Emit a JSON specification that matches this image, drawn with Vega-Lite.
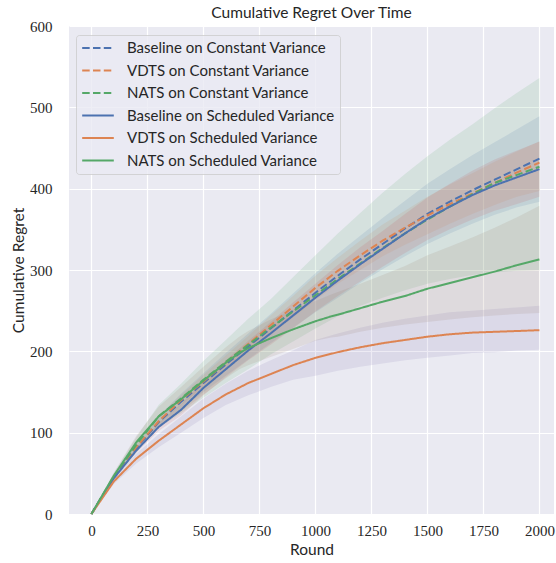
{
  "$schema": "https://vega.github.io/schema/vega-lite/v6.json",
  "width": 485,
  "height": 488,
  "autosize": {"type": "none"},
  "padding": {"left": 69, "top": 26, "right": 2, "bottom": 49},
  "background": "white",
  "title": {"text": "Cumulative Regret Over Time", "font": "Lato", "fontSize": 15.5, "fontWeight": "normal", "color": "#262626", "offset": -2, "anchor": "middle"},
  "config": {
    "view": {"fill": "#EAEAF2", "stroke": null},
    "axis": {"domain": false, "ticks": false, "tickSize": 0, "grid": true, "gridColor": "white", "gridWidth": 1.2, "labelFont": "Liberation Serif", "labelFontSize": 15, "labelColor": "#262626", "titleFont": "Lato", "titleFontSize": 15.5, "titleFontWeight": "normal", "titleColor": "#262626", "labelFlush": false, "labelOverlap": false, "format": "d"}
  },
  "datasets": {
    "runs": [
      {"series": "Baseline on Constant Variance", "round": 0, "mean": 0, "lo": 0, "hi": 0},
      {"series": "Baseline on Constant Variance", "round": 100, "mean": 45, "lo": 42, "hi": 48},
      {"series": "Baseline on Constant Variance", "round": 200, "mean": 81, "lo": 76, "hi": 86},
      {"series": "Baseline on Constant Variance", "round": 300, "mean": 113, "lo": 106, "hi": 120},
      {"series": "Baseline on Constant Variance", "round": 400, "mean": 138, "lo": 129, "hi": 148},
      {"series": "Baseline on Constant Variance", "round": 500, "mean": 161, "lo": 150, "hi": 173},
      {"series": "Baseline on Constant Variance", "round": 600, "mean": 184, "lo": 170, "hi": 198},
      {"series": "Baseline on Constant Variance", "round": 700, "mean": 206, "lo": 190, "hi": 222},
      {"series": "Baseline on Constant Variance", "round": 800, "mean": 228, "lo": 210, "hi": 246},
      {"series": "Baseline on Constant Variance", "round": 900, "mean": 250, "lo": 229, "hi": 271},
      {"series": "Baseline on Constant Variance", "round": 1000, "mean": 272, "lo": 248, "hi": 296},
      {"series": "Baseline on Constant Variance", "round": 1100, "mean": 293, "lo": 266, "hi": 320},
      {"series": "Baseline on Constant Variance", "round": 1200, "mean": 313, "lo": 284, "hi": 342},
      {"series": "Baseline on Constant Variance", "round": 1300, "mean": 332, "lo": 301, "hi": 364},
      {"series": "Baseline on Constant Variance", "round": 1400, "mean": 351, "lo": 317, "hi": 385},
      {"series": "Baseline on Constant Variance", "round": 1500, "mean": 369, "lo": 332, "hi": 406},
      {"series": "Baseline on Constant Variance", "round": 1600, "mean": 384, "lo": 345, "hi": 424},
      {"series": "Baseline on Constant Variance", "round": 1700, "mean": 398, "lo": 357, "hi": 441},
      {"series": "Baseline on Constant Variance", "round": 1800, "mean": 411, "lo": 368, "hi": 457},
      {"series": "Baseline on Constant Variance", "round": 1900, "mean": 424, "lo": 377, "hi": 473},
      {"series": "Baseline on Constant Variance", "round": 2000, "mean": 437, "lo": 384, "hi": 489},

      {"series": "VDTS on Constant Variance", "round": 0, "mean": 0, "lo": 0, "hi": 0},
      {"series": "VDTS on Constant Variance", "round": 100, "mean": 45, "lo": 43, "hi": 47},
      {"series": "VDTS on Constant Variance", "round": 200, "mean": 82, "lo": 79, "hi": 85},
      {"series": "VDTS on Constant Variance", "round": 300, "mean": 114, "lo": 110, "hi": 119},
      {"series": "VDTS on Constant Variance", "round": 400, "mean": 140, "lo": 134, "hi": 146},
      {"series": "VDTS on Constant Variance", "round": 500, "mean": 163, "lo": 156, "hi": 171},
      {"series": "VDTS on Constant Variance", "round": 600, "mean": 186, "lo": 177, "hi": 195},
      {"series": "VDTS on Constant Variance", "round": 700, "mean": 209, "lo": 199, "hi": 219},
      {"series": "VDTS on Constant Variance", "round": 800, "mean": 232, "lo": 220, "hi": 244},
      {"series": "VDTS on Constant Variance", "round": 900, "mean": 255, "lo": 242, "hi": 268},
      {"series": "VDTS on Constant Variance", "round": 1000, "mean": 278, "lo": 263, "hi": 293},
      {"series": "VDTS on Constant Variance", "round": 1100, "mean": 299, "lo": 283, "hi": 315},
      {"series": "VDTS on Constant Variance", "round": 1200, "mean": 318, "lo": 300, "hi": 336},
      {"series": "VDTS on Constant Variance", "round": 1300, "mean": 336, "lo": 317, "hi": 356},
      {"series": "VDTS on Constant Variance", "round": 1400, "mean": 352, "lo": 331, "hi": 373},
      {"series": "VDTS on Constant Variance", "round": 1500, "mean": 367, "lo": 344, "hi": 390},
      {"series": "VDTS on Constant Variance", "round": 1600, "mean": 381, "lo": 357, "hi": 405},
      {"series": "VDTS on Constant Variance", "round": 1700, "mean": 394, "lo": 369, "hi": 419},
      {"series": "VDTS on Constant Variance", "round": 1800, "mean": 407, "lo": 380, "hi": 433},
      {"series": "VDTS on Constant Variance", "round": 1900, "mean": 420, "lo": 390, "hi": 446},
      {"series": "VDTS on Constant Variance", "round": 2000, "mean": 432, "lo": 397, "hi": 458},

      {"series": "NATS on Constant Variance", "round": 0, "mean": 0, "lo": 0, "hi": 0},
      {"series": "NATS on Constant Variance", "round": 100, "mean": 46, "lo": 42, "hi": 50},
      {"series": "NATS on Constant Variance", "round": 200, "mean": 85, "lo": 76, "hi": 94},
      {"series": "NATS on Constant Variance", "round": 300, "mean": 120, "lo": 106, "hi": 134},
      {"series": "NATS on Constant Variance", "round": 400, "mean": 142, "lo": 124, "hi": 160},
      {"series": "NATS on Constant Variance", "round": 500, "mean": 165, "lo": 143, "hi": 188},
      {"series": "NATS on Constant Variance", "round": 600, "mean": 187, "lo": 161, "hi": 214},
      {"series": "NATS on Constant Variance", "round": 700, "mean": 208, "lo": 178, "hi": 240},
      {"series": "NATS on Constant Variance", "round": 800, "mean": 229, "lo": 196, "hi": 264},
      {"series": "NATS on Constant Variance", "round": 900, "mean": 249, "lo": 212, "hi": 291},
      {"series": "NATS on Constant Variance", "round": 1000, "mean": 269, "lo": 228, "hi": 318},
      {"series": "NATS on Constant Variance", "round": 1100, "mean": 289, "lo": 243, "hi": 345},
      {"series": "NATS on Constant Variance", "round": 1200, "mean": 308, "lo": 256, "hi": 370},
      {"series": "NATS on Constant Variance", "round": 1300, "mean": 327, "lo": 266, "hi": 395},
      {"series": "NATS on Constant Variance", "round": 1400, "mean": 345, "lo": 275, "hi": 418},
      {"series": "NATS on Constant Variance", "round": 1500, "mean": 362, "lo": 283, "hi": 440},
      {"series": "NATS on Constant Variance", "round": 1600, "mean": 378, "lo": 289, "hi": 460},
      {"series": "NATS on Constant Variance", "round": 1700, "mean": 393, "lo": 294, "hi": 479},
      {"series": "NATS on Constant Variance", "round": 1800, "mean": 407, "lo": 297, "hi": 499},
      {"series": "NATS on Constant Variance", "round": 1900, "mean": 417, "lo": 299, "hi": 518},
      {"series": "NATS on Constant Variance", "round": 2000, "mean": 427, "lo": 300, "hi": 536},

      {"series": "Baseline on Scheduled Variance", "round": 0, "mean": 0, "lo": 0, "hi": 0},
      {"series": "Baseline on Scheduled Variance", "round": 100, "mean": 44, "lo": 42, "hi": 46},
      {"series": "Baseline on Scheduled Variance", "round": 200, "mean": 78, "lo": 75, "hi": 81},
      {"series": "Baseline on Scheduled Variance", "round": 300, "mean": 107, "lo": 102, "hi": 112},
      {"series": "Baseline on Scheduled Variance", "round": 400, "mean": 128, "lo": 121, "hi": 135},
      {"series": "Baseline on Scheduled Variance", "round": 500, "mean": 155, "lo": 146, "hi": 164},
      {"series": "Baseline on Scheduled Variance", "round": 600, "mean": 178, "lo": 168, "hi": 189},
      {"series": "Baseline on Scheduled Variance", "round": 700, "mean": 201, "lo": 189, "hi": 213},
      {"series": "Baseline on Scheduled Variance", "round": 800, "mean": 222, "lo": 208, "hi": 236},
      {"series": "Baseline on Scheduled Variance", "round": 900, "mean": 244, "lo": 228, "hi": 260},
      {"series": "Baseline on Scheduled Variance", "round": 1000, "mean": 266, "lo": 249, "hi": 283},
      {"series": "Baseline on Scheduled Variance", "round": 1100, "mean": 287, "lo": 268, "hi": 306},
      {"series": "Baseline on Scheduled Variance", "round": 1200, "mean": 307, "lo": 286, "hi": 328},
      {"series": "Baseline on Scheduled Variance", "round": 1300, "mean": 326, "lo": 304, "hi": 348},
      {"series": "Baseline on Scheduled Variance", "round": 1400, "mean": 345, "lo": 321, "hi": 369},
      {"series": "Baseline on Scheduled Variance", "round": 1500, "mean": 363, "lo": 337, "hi": 389},
      {"series": "Baseline on Scheduled Variance", "round": 1600, "mean": 378, "lo": 350, "hi": 406},
      {"series": "Baseline on Scheduled Variance", "round": 1700, "mean": 392, "lo": 362, "hi": 422},
      {"series": "Baseline on Scheduled Variance", "round": 1800, "mean": 404, "lo": 373, "hi": 436},
      {"series": "Baseline on Scheduled Variance", "round": 1900, "mean": 414, "lo": 381, "hi": 447},
      {"series": "Baseline on Scheduled Variance", "round": 2000, "mean": 424, "lo": 390, "hi": 458},

      {"series": "VDTS on Scheduled Variance", "round": 0, "mean": 0, "lo": 0, "hi": 0},
      {"series": "VDTS on Scheduled Variance", "round": 100, "mean": 40, "lo": 37, "hi": 43},
      {"series": "VDTS on Scheduled Variance", "round": 200, "mean": 68, "lo": 62, "hi": 74},
      {"series": "VDTS on Scheduled Variance", "round": 300, "mean": 90, "lo": 82, "hi": 98},
      {"series": "VDTS on Scheduled Variance", "round": 400, "mean": 110, "lo": 100, "hi": 120},
      {"series": "VDTS on Scheduled Variance", "round": 500, "mean": 130, "lo": 118, "hi": 142},
      {"series": "VDTS on Scheduled Variance", "round": 600, "mean": 147, "lo": 134, "hi": 160},
      {"series": "VDTS on Scheduled Variance", "round": 700, "mean": 161, "lo": 146, "hi": 176},
      {"series": "VDTS on Scheduled Variance", "round": 800, "mean": 172, "lo": 156, "hi": 189},
      {"series": "VDTS on Scheduled Variance", "round": 900, "mean": 183, "lo": 165, "hi": 201},
      {"series": "VDTS on Scheduled Variance", "round": 1000, "mean": 192, "lo": 170, "hi": 214},
      {"series": "VDTS on Scheduled Variance", "round": 1100, "mean": 199, "lo": 176, "hi": 222},
      {"series": "VDTS on Scheduled Variance", "round": 1200, "mean": 205, "lo": 181, "hi": 229},
      {"series": "VDTS on Scheduled Variance", "round": 1300, "mean": 210, "lo": 185, "hi": 235},
      {"series": "VDTS on Scheduled Variance", "round": 1400, "mean": 214, "lo": 189, "hi": 240},
      {"series": "VDTS on Scheduled Variance", "round": 1500, "mean": 218, "lo": 192, "hi": 244},
      {"series": "VDTS on Scheduled Variance", "round": 1600, "mean": 221, "lo": 195, "hi": 248},
      {"series": "VDTS on Scheduled Variance", "round": 1700, "mean": 223, "lo": 198, "hi": 250},
      {"series": "VDTS on Scheduled Variance", "round": 1800, "mean": 224, "lo": 199, "hi": 252},
      {"series": "VDTS on Scheduled Variance", "round": 1900, "mean": 225, "lo": 201, "hi": 254},
      {"series": "VDTS on Scheduled Variance", "round": 2000, "mean": 226, "lo": 202, "hi": 256},

      {"series": "NATS on Scheduled Variance", "round": 0, "mean": 0, "lo": 0, "hi": 0},
      {"series": "NATS on Scheduled Variance", "round": 100, "mean": 47, "lo": 43, "hi": 51},
      {"series": "NATS on Scheduled Variance", "round": 200, "mean": 88, "lo": 80, "hi": 96},
      {"series": "NATS on Scheduled Variance", "round": 300, "mean": 120, "lo": 108, "hi": 132},
      {"series": "NATS on Scheduled Variance", "round": 400, "mean": 141, "lo": 126, "hi": 156},
      {"series": "NATS on Scheduled Variance", "round": 500, "mean": 164, "lo": 147, "hi": 181},
      {"series": "NATS on Scheduled Variance", "round": 600, "mean": 186, "lo": 167, "hi": 205},
      {"series": "NATS on Scheduled Variance", "round": 660, "mean": 198, "lo": 178, "hi": 218},
      {"series": "NATS on Scheduled Variance", "round": 700, "mean": 204, "lo": 183, "hi": 225},
      {"series": "NATS on Scheduled Variance", "round": 800, "mean": 216, "lo": 193, "hi": 239},
      {"series": "NATS on Scheduled Variance", "round": 900, "mean": 227, "lo": 203, "hi": 251},
      {"series": "NATS on Scheduled Variance", "round": 1000, "mean": 237, "lo": 213, "hi": 262},
      {"series": "NATS on Scheduled Variance", "round": 1070, "mean": 243, "lo": 217, "hi": 270},
      {"series": "NATS on Scheduled Variance", "round": 1100, "mean": 245, "lo": 218, "hi": 273},
      {"series": "NATS on Scheduled Variance", "round": 1200, "mean": 253, "lo": 224, "hi": 283},
      {"series": "NATS on Scheduled Variance", "round": 1300, "mean": 261, "lo": 229, "hi": 294},
      {"series": "NATS on Scheduled Variance", "round": 1400, "mean": 268, "lo": 233, "hi": 305},
      {"series": "NATS on Scheduled Variance", "round": 1500, "mean": 277, "lo": 236, "hi": 318},
      {"series": "NATS on Scheduled Variance", "round": 1600, "mean": 284, "lo": 239, "hi": 329},
      {"series": "NATS on Scheduled Variance", "round": 1700, "mean": 291, "lo": 242, "hi": 340},
      {"series": "NATS on Scheduled Variance", "round": 1800, "mean": 298, "lo": 244, "hi": 352},
      {"series": "NATS on Scheduled Variance", "round": 1900, "mean": 306, "lo": 246, "hi": 365},
      {"series": "NATS on Scheduled Variance", "round": 2000, "mean": 313, "lo": 247, "hi": 379}
    ]
  },
  "data": {"name": "runs"},
  "layer": [
    {
      "mark": {"type": "area", "fillOpacity": 0.14, "strokeWidth": 0},
      "encoding": {
        "x": {"field": "round", "type": "quantitative", "scale": {"domain": [-100, 2065], "nice": false, "zero": false}, "axis": {"title": "Round", "values": [0, 250, 500, 750, 1000, 1250, 1500, 1750, 2000], "labelPadding": 9, "titlePadding": 4}},
        "y": {"field": "lo", "type": "quantitative", "scale": {"domain": [0, 600], "nice": false}, "axis": {"title": "Cumulative Regret", "values": [0, 100, 200, 300, 400, 500, 600], "labelPadding": 17, "titlePadding": 3}},
        "y2": {"field": "hi"},
        "fill": {"field": "series", "type": "nominal", "legend": null, "scale": {"domain": ["NATS on Scheduled Variance", "VDTS on Scheduled Variance", "Baseline on Scheduled Variance", "NATS on Constant Variance", "VDTS on Constant Variance", "Baseline on Constant Variance"], "range": ["#937860", "#8172B3", "#C44E52", "#55A868", "#DD8452", "#4C72B0"]}}
      }
    },
    {
      "mark": {"type": "line", "strokeWidth": 2},
      "encoding": {
        "x": {"field": "round", "type": "quantitative"},
        "y": {"field": "mean", "type": "quantitative"},
        "color": {"field": "series", "type": "nominal", "scale": {"domain": ["Baseline on Constant Variance", "VDTS on Constant Variance", "NATS on Constant Variance", "Baseline on Scheduled Variance", "VDTS on Scheduled Variance", "NATS on Scheduled Variance"], "range": ["#4C72B0", "#DD8452", "#55A868", "#4C72B0", "#DD8452", "#55A868"]},
          "legend": {"orient": "none", "legendX": 7, "legendY": 9, "title": null, "symbolType": "stroke", "symbolSize": 1000, "symbolStrokeWidth": 2, "labelFont": "Lato", "labelFontSize": 15, "labelLimit": 400, "labelColor": "#262626", "fillColor": "rgba(234,234,242,0.8)", "strokeColor": "rgba(204,204,204,0.8)", "cornerRadius": 3, "padding": 5, "rowPadding": 6.5, "clipHeight": 16, "labelOffset": 12}},
        "strokeDash": {"field": "series", "type": "nominal", "scale": {"domain": ["Baseline on Constant Variance", "VDTS on Constant Variance", "NATS on Constant Variance", "Baseline on Scheduled Variance", "VDTS on Scheduled Variance", "NATS on Scheduled Variance"], "range": [[7.5, 3.3], [7.5, 3.3], [7.5, 3.3], [1, 0], [1, 0], [1, 0]]},
          "legend": {"orient": "none", "legendX": 7, "legendY": 9, "title": null, "symbolType": "stroke", "symbolSize": 1000, "symbolStrokeWidth": 2, "labelFont": "Lato", "labelFontSize": 15, "labelLimit": 400, "labelColor": "#262626", "fillColor": "rgba(234,234,242,0.8)", "strokeColor": "rgba(204,204,204,0.8)", "cornerRadius": 3, "padding": 5, "rowPadding": 6.5, "clipHeight": 16, "labelOffset": 12}}
      }
    }
  ]
}
